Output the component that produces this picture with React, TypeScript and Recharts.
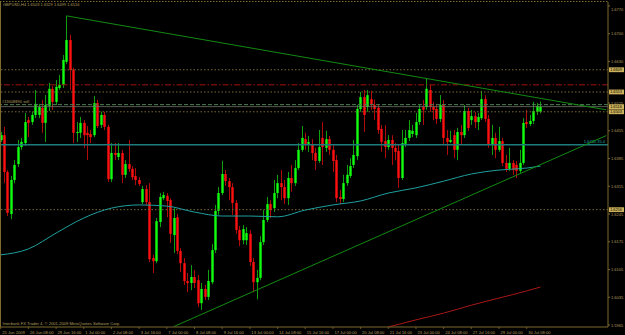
import React from 'react';
import { ComposedChart, Bar, Line, XAxis, YAxis, ReferenceLine } from 'recharts';

// GBPUSD H4 candles (oldest first)
const opens = [
  1.6432, 1.6444, 1.6351, 1.6245, 1.6331, 1.6371, 1.6414, 1.6424, 1.6482, 1.6477,
  1.6495, 1.6495, 1.6513, 1.6475, 1.6518, 1.6561, 1.6528, 1.6563, 1.6571, 1.6629,
  1.6684, 1.6609, 1.6450, 1.6450, 1.6475, 1.6450, 1.6447, 1.6444, 1.6525, 1.6470,
  1.6495, 1.6465, 1.6333, 1.6399, 1.6389, 1.6399, 1.6344, 1.6371, 1.6359, 1.6341,
  1.6331, 1.6275, 1.6308, 1.6275, 1.6134, 1.6126, 1.6225, 1.6285, 1.6291, 1.6280,
  1.6192, 1.6237, 1.6152, 1.6121, 1.6076, 1.6071, 1.6086, 1.6078, 1.6020, 1.6056,
  1.6036, 1.6073, 1.6154, 1.6253, 1.6298, 1.6346, 1.6328, 1.6313, 1.6273, 1.6205,
  1.6179, 1.6179, 1.6195, 1.6124, 1.6073, 1.6084, 1.6174, 1.6230, 1.6270, 1.6260,
  1.6298, 1.6323, 1.6313, 1.6285, 1.6336, 1.6323, 1.6361, 1.6407, 1.6434, 1.6422,
  1.6422, 1.6399, 1.6379, 1.6437, 1.6412, 1.6434, 1.6407, 1.6381, 1.6288, 1.6283,
  1.6323, 1.6341, 1.6369, 1.6391, 1.6510, 1.6540, 1.6515, 1.6535, 1.6520, 1.6513,
  1.6460, 1.6429, 1.6414, 1.6432, 1.6412, 1.6404, 1.6336, 1.6422, 1.6437, 1.6447,
  1.6444, 1.6477, 1.6515, 1.6515, 1.6558, 1.6515, 1.6510, 1.6485, 1.6520, 1.6437,
  1.6427, 1.6444, 1.6407, 1.6452, 1.6444, 1.6505, 1.6482, 1.6492, 1.6477, 1.6487,
  1.6535, 1.6485, 1.6419, 1.6437, 1.6407, 1.6429, 1.6374, 1.6359, 1.6374, 1.6369,
  1.6354, 1.6374, 1.6477, 1.6472, 1.6480, 1.6503, 1.6503,
];
const highs = [
  1.6452, 1.6465, 1.6356, 1.6341, 1.6381, 1.6432, 1.6437, 1.6500, 1.6490, 1.6503,
  1.6558, 1.6523, 1.6533, 1.6545, 1.6576, 1.6568, 1.6583, 1.6596, 1.6646, 1.6745,
  1.6697, 1.6614, 1.6477, 1.6490, 1.6482, 1.6467, 1.6457, 1.6543, 1.6533, 1.6503,
  1.6503, 1.6470, 1.6424, 1.6424, 1.6424, 1.6407, 1.6381, 1.6432, 1.6366, 1.6361,
  1.6338, 1.6316, 1.6318, 1.6323, 1.6142, 1.6235, 1.6298, 1.6301, 1.6298, 1.6285,
  1.6260, 1.6245, 1.6159, 1.6134, 1.6096, 1.6116, 1.6104, 1.6091, 1.6071, 1.6066,
  1.6104, 1.6169, 1.6268, 1.6313, 1.6379, 1.6356, 1.6336, 1.6323, 1.6280, 1.6215,
  1.6217, 1.6212, 1.6205, 1.6134, 1.6104, 1.6189, 1.6255, 1.6288, 1.6280, 1.6331,
  1.6344, 1.6356, 1.6331, 1.6351, 1.6369, 1.6381, 1.6424, 1.6467, 1.6450, 1.6442,
  1.6434, 1.6412, 1.6457, 1.6477, 1.6455, 1.6442, 1.6419, 1.6394, 1.6306, 1.6344,
  1.6369, 1.6386, 1.6432, 1.6520, 1.6553, 1.6558, 1.6558, 1.6556, 1.6533, 1.6523,
  1.6470, 1.6470, 1.6444, 1.6444, 1.6424, 1.6419, 1.6457, 1.6457, 1.6482, 1.6470,
  1.6500, 1.6520, 1.6533, 1.6586, 1.6571, 1.6528, 1.6523, 1.6545, 1.6533, 1.6457,
  1.6455, 1.6457, 1.6462, 1.6470, 1.6520, 1.6513, 1.6508, 1.6503, 1.6500, 1.6556,
  1.6545, 1.6495, 1.6470, 1.6450, 1.6465, 1.6437, 1.6394, 1.6412, 1.6381, 1.6379,
  1.6407, 1.6487, 1.6508, 1.6495, 1.6528, 1.6525, 1.6529,
];
const lows = [
  1.6427, 1.6323, 1.6240, 1.6232, 1.6323, 1.6364, 1.6407, 1.6417, 1.6439, 1.6470,
  1.6487, 1.6487, 1.6450, 1.6427, 1.6505, 1.6508, 1.6520, 1.6558, 1.6563, 1.6624,
  1.6558, 1.6424, 1.6427, 1.6437, 1.6412, 1.6381, 1.6424, 1.6439, 1.6462, 1.6462,
  1.6457, 1.6326, 1.6326, 1.6381, 1.6381, 1.6323, 1.6336, 1.6351, 1.6331, 1.6318,
  1.6316, 1.6270, 1.6268, 1.6124, 1.6096, 1.6121, 1.6212, 1.6280, 1.6237, 1.6172,
  1.6147, 1.6144, 1.6099, 1.6066, 1.6048, 1.6053, 1.6058, 1.6010, 1.6003, 1.6028,
  1.6028, 1.6068, 1.6147, 1.6243, 1.6293, 1.6316, 1.6280, 1.6243, 1.6195, 1.6164,
  1.6169, 1.6167, 1.6114, 1.6048, 1.6030, 1.6078, 1.6167, 1.6225, 1.6235, 1.6250,
  1.6285, 1.6280, 1.6270, 1.6268, 1.6301, 1.6316, 1.6356, 1.6402, 1.6407, 1.6402,
  1.6381, 1.6356, 1.6374, 1.6369, 1.6402, 1.6394, 1.6351, 1.6275, 1.6270, 1.6275,
  1.6316, 1.6336, 1.6361, 1.6381, 1.6503, 1.6452, 1.6503, 1.6508, 1.6482, 1.6447,
  1.6402, 1.6386, 1.6407, 1.6369, 1.6381, 1.6311, 1.6331, 1.6414, 1.6429, 1.6439,
  1.6437, 1.6470, 1.6470, 1.6508, 1.6503, 1.6482, 1.6472, 1.6477, 1.6419, 1.6394,
  1.6424, 1.6386, 1.6381, 1.6419, 1.6437, 1.6455, 1.6470, 1.6462, 1.6457, 1.6482,
  1.6477, 1.6412, 1.6394, 1.6386, 1.6402, 1.6366, 1.6351, 1.6354, 1.6344, 1.6336,
  1.6349, 1.6369, 1.6462, 1.6467, 1.6472, 1.6495, 1.6499,
];
const closes = [
  1.6444, 1.6351, 1.6248, 1.6331, 1.6369, 1.6414, 1.6427, 1.6477, 1.6475, 1.6495,
  1.6523, 1.6515, 1.6475, 1.6520, 1.6561, 1.6528, 1.6566, 1.6571, 1.6634, 1.6684,
  1.6609, 1.6450, 1.6452, 1.6475, 1.6444, 1.6444, 1.6439, 1.6525, 1.6467, 1.6495,
  1.6465, 1.6333, 1.6399, 1.6394, 1.6399, 1.6344, 1.6371, 1.6359, 1.6338, 1.6331,
  1.6321, 1.6308, 1.6275, 1.6131, 1.6126, 1.6227, 1.6288, 1.6293, 1.6278, 1.6195,
  1.6235, 1.6152, 1.6121, 1.6076, 1.6071, 1.6086, 1.6071, 1.6020, 1.6056, 1.6036,
  1.6076, 1.6154, 1.6253, 1.6298, 1.6346, 1.6328, 1.6313, 1.6273, 1.6205, 1.6179,
  1.6207, 1.6197, 1.6124, 1.6073, 1.6084, 1.6174, 1.6230, 1.6270, 1.6255, 1.6298,
  1.6323, 1.6313, 1.6285, 1.6336, 1.6323, 1.6361, 1.6407, 1.6437, 1.6422, 1.6427,
  1.6399, 1.6379, 1.6414, 1.6414, 1.6434, 1.6407, 1.6379, 1.6285, 1.6283, 1.6323,
  1.6344, 1.6366, 1.6394, 1.6510, 1.6540, 1.6495, 1.6545, 1.6520, 1.6510, 1.6457,
  1.6427, 1.6414, 1.6432, 1.6412, 1.6402, 1.6336, 1.6424, 1.6437, 1.6457, 1.6455,
  1.6477, 1.6510, 1.6508, 1.6561, 1.6515, 1.6508, 1.6485, 1.6520, 1.6437, 1.6427,
  1.6432, 1.6407, 1.6452, 1.6444, 1.6505, 1.6462, 1.6492, 1.6477, 1.6490, 1.6535,
  1.6485, 1.6419, 1.6437, 1.6407, 1.6429, 1.6374, 1.6359, 1.6374, 1.6356, 1.6354,
  1.6374, 1.6475, 1.6472, 1.6480, 1.6505, 1.6518, 1.6516,
];

// moving averages, read at a few bars
const tealIdx = [0, 8, 16, 24, 32, 40, 48, 56, 64, 72, 80, 88, 96, 104, 112, 120, 128, 136, 144, 152, 156];
const tealMa = [1.6142, 1.6157, 1.6197, 1.6235, 1.6260, 1.6268, 1.6265, 1.6250, 1.6240, 1.6240, 1.6238,
  1.6255, 1.6268, 1.6278, 1.6298, 1.6311, 1.6328, 1.6346, 1.6356, 1.6361, 1.6366];
const redIdx = [112, 120, 128, 136, 144, 152, 156];
const redMa = [1.5960, 1.5978, 1.5995, 1.6015, 1.6033, 1.6051, 1.6061];

// trend lines (bar index, price)
const downIdx = [19, 175];
const downPx = [1.6745, 1.6508];
const upIdx = [50, 175];
const upPx = [1.5961, 1.6443];

const timeIdx = [0, 8, 16, 24, 32, 40, 48, 56, 64, 72, 80, 88, 96, 104, 112, 120, 128, 136, 144, 152];
const timeLabels = [
  '25 Jun 2009', '26 Jun 08:00', '29 Jun 16:00', '1 Jul 00:00', '2 Jul 08:00', '3 Jul 16:00',
  '7 Jul 00:00', '8 Jul 08:00', '9 Jul 16:00', '13 Jul 00:00', '14 Jul 08:00', '15 Jul 16:00',
  '17 Jul 00:00', '20 Jul 08:00', '21 Jul 16:00', '23 Jul 00:00', '24 Jul 08:00', '27 Jul 16:00',
  '29 Jul 00:00', '30 Jul 08:00',
];
// 1.6560 sits under the 1.6553 tag on the original, so it is left out
const priceTicks = [
  1.5965, 1.6000, 1.6035, 1.6070, 1.6105, 1.6140, 1.6175, 1.6210, 1.6245, 1.6280, 1.6315, 1.6350,
  1.6385, 1.6420, 1.6455, 1.6490, 1.6525, 1.6595, 1.6630, 1.6665, 1.6700, 1.6735, 1.6770,
];
const SLOTS = 176;

const AXIS = '#7d6a2c';
const TXT = '#b09c5e';
const FONT = 'Liberation Sans, Arial, sans-serif';

const table = Array.from({ length: SLOTS }, (_, i) => {
  const row: any = { idx: i };
  if (i < opens.length) {
    row.open = opens[i];
    row.high = highs[i];
    row.low = lows[i];
    row.close = closes[i];
    row.range = [lows[i], highs[i]];
  }
  const t = tealIdx.indexOf(i);
  if (t >= 0) row.teal = tealMa[t];
  const r = redIdx.indexOf(i);
  if (r >= 0) row.red = redMa[r];
  const d = downIdx.indexOf(i);
  if (d >= 0) row.down = downPx[d];
  const u = upIdx.indexOf(i);
  if (u >= 0) row.up = upPx[u];
  return row;
});

const Candle = (props: any) => {
  const { x, y, width, height, payload } = props;
  if (payload == null || payload.open == null) return null;
  const { open, close, high, low } = payload;
  const k = height / Math.max(high - low, 1e-9);
  const cx = Math.round(x + width / 2) + 0.5;
  const yo = y + (high - open) * k;
  const yc = y + (high - close) * k;
  const bull = close >= open;
  const top = Math.min(yo, yc);
  const h = Math.max(Math.abs(yo - yc), 1);
  return (
    <g>
      <line x1={cx} x2={cx} y1={y} y2={y + height} stroke={bull ? '#0fa00f' : '#b00c0c'} strokeWidth={1} />
      <rect x={cx - 1.2} y={top} width={2.4} height={h} fill={bull ? '#10ff10' : '#ff1010'} />
    </g>
  );
};

const TimeTick = ({ x, y, payload }: any) => {
  const k = timeIdx.indexOf(payload.value);
  if (k < 0) return <g />;
  return (
    <g>
      <line x1={x} x2={x} y1={y} y2={y + 2} stroke={AXIS} strokeWidth={0.8} />
      <text x={x + 1.5} y={y + 6.6} fontSize={4.1} fill={TXT} fontFamily={FONT}>{timeLabels[k]}</text>
    </g>
  );
};

const PriceTick = ({ x, y, payload }: any) => (
  <text x={x} y={y + 1.5} fontSize={4} fill={TXT} fontFamily={FONT}>{Number(payload.value).toFixed(4)}</text>
);

const tag = (text: string) => (p: any) => {
  const vb = p.viewBox || {};
  const right = (vb.x || 0) + (vb.width || 0);
  const cy = vb.y || 0;
  return (
    <g>
      <rect x={right + 1} y={cy - 2.4} width={15} height={4.8} fill="#cdb15a" />
      <text x={right + 2.2} y={cy + 1.4} fontSize={3.8} fill="#000" fontFamily={FONT}>{text}</text>
    </g>
  );
};

const lineText = (text: string, color: string, dx: number, dy: number, anchor: string) => (p: any) => {
  const vb = p.viewBox || {};
  const px = anchor === 'end' ? (vb.x || 0) + (vb.width || 0) + dx : (vb.x || 0) + dx;
  return (
    <text x={px} y={(vb.y || 0) + dy} fontSize={4} fill={color} textAnchor={anchor} fontFamily={FONT}>{text}</text>
  );
};

export default function App() {
  return (
    <div style={{ position: 'fixed', left: 0, top: 0, width: 625, height: 335, background: '#000', overflow: 'hidden' }}>
      <ComposedChart
        width={625}
        height={335}
        data={table}
        margin={{ top: 2, right: 0, bottom: 0, left: -1 }}
        barCategoryGap={0}
      >
        <XAxis
          dataKey="idx"
          type="category"
          interval={0}
          height={8}
          tick={<TimeTick />}
          tickLine={false}
          tickSize={0}
          tickMargin={0}
          axisLine={{ stroke: AXIS, strokeWidth: 1 }}
        />
        <YAxis
          orientation="right"
          type="number"
          domain={[1.5960, 1.6780]}
          allowDataOverflow
          ticks={priceTicks}
          width={17}
          tick={<PriceTick />}
          tickSize={2}
          tickMargin={1}
          tickLine={{ stroke: AXIS }}
          axisLine={{ stroke: AXIS, strokeWidth: 1 }}
        />

        <ReferenceLine y={1.6609} stroke="#7c6a34" strokeDasharray="1.5 2" label={tag('1.6609')} />
        <ReferenceLine y={1.6571} stroke="#a01414" strokeDasharray="6 2 1.5 2" />
        <ReferenceLine y={1.6553} stroke="#7c6a34" strokeDasharray="1.5 2" label={tag('1.6553')} />
        <ReferenceLine y={1.6521} stroke="#4f7f55" strokeDasharray="4 2" label={lineText('#19008890 sell', TXT, 3, -1.5, 'start')} />
        <ReferenceLine y={1.6516} stroke="#6f7468" strokeWidth={0.8} label={tag('1.6516')} />
        <ReferenceLine y={1.6503} stroke="#7c6a34" strokeDasharray="1.5 2" label={tag('1.6503')} />
        <ReferenceLine y={1.6420} stroke="#1c7c7c" strokeWidth={1.6} label={lineText('1.6420   35.4', '#22a6a6', -3, -1.8, 'end')} />
        <ReferenceLine y={1.6256} stroke="#7c6a34" strokeDasharray="1.5 2" label={tag('1.6256')} />

        <Line dataKey="teal" type="monotone" stroke="#1f9f9f" strokeWidth={1} dot={false} connectNulls isAnimationActive={false} />
        <Line dataKey="red" type="monotone" stroke="#a81818" strokeWidth={1} dot={false} connectNulls isAnimationActive={false} />
        <Line dataKey="down" type="linear" stroke="#128a12" strokeWidth={1} dot={false} connectNulls isAnimationActive={false} />
        <Line dataKey="up" type="linear" stroke="#128a12" strokeWidth={1} dot={false} connectNulls isAnimationActive={false} />

        <Bar dataKey="range" shape={<Candle />} isAnimationActive={false} />
      </ComposedChart>

      <svg width={625} height={335} style={{ position: 'absolute', left: 0, top: 0, pointerEvents: 'none' }}>
        <line x1={0.5} x2={0.5} y1={1} y2={327} stroke={AXIS} strokeWidth={1} />
        <line x1={0} x2={608} y1={1.5} y2={1.5} stroke={AXIS} strokeWidth={1} strokeDasharray="1.5 1.5" />
        <text x={3} y={6} fontSize={4} fill={TXT} fontFamily={FONT}>GBPUSD,H4  1.6503  1.6529  1.6499  1.6516</text>
        <text x={2.5} y={325} fontSize={4.1} fill={TXT} fontFamily={FONT}>
          Interbank FX Trader 4, © 2001-2009 MetaQuotes Software Corp.
        </text>
      </svg>
    </div>
  );
}
